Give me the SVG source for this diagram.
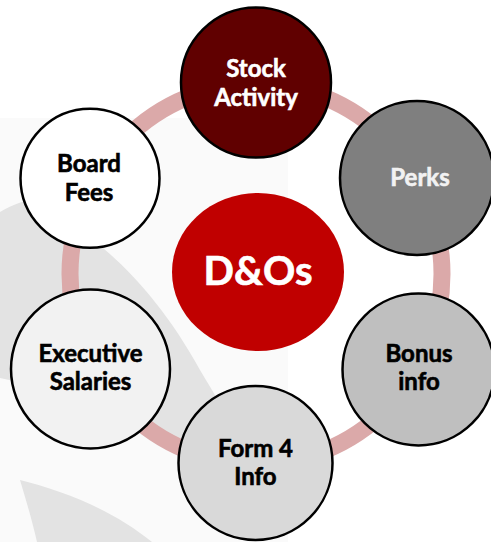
<svg xmlns="http://www.w3.org/2000/svg" width="491" height="542" viewBox="0 0 491 542">
  <style>
    .node { stroke: #000000; stroke-width: 2.5; }
    .lbl { font-family: Lato, "Open Sans", "Liberation Sans", sans-serif; font-weight: 700; font-size: 24px; text-anchor: middle; stroke-width: 0.6; paint-order: stroke; }
    .dark { fill: #000000; stroke: #000000; }
    .light { fill: #ffffff; stroke: #ffffff; }
    .pale { fill: #f2f2f2; stroke: #f2f2f2; }
    .ring { fill: none; stroke: #dba9a9; stroke-width: 17; }
    .swoosh { fill: #e3e3e3; }
  </style>

  <!-- backdrop -->
  <rect x="0" y="0" width="491" height="542" fill="#ffffff"/>
  <rect x="0" y="118" width="288" height="424" fill="#fafafa"/>
  <path class="swoosh" d="M0,212 C20,200 45,193 70,205 C85,213 95,235 103,248 C135,275 170,315 200,370 C215,395 230,420 245,450 C200,445 160,440 120,425 C80,405 40,385 0,378 Z"/>
  <path class="swoosh" d="M20,480 C60,490 110,508 152,542 L37,542 C32,520 26,500 20,480 Z"/>

  <!-- connectors: ring linking the outer nodes -->
  <g id="connectors">
    <ellipse class="ring" cx="256" cy="274" rx="186" ry="190"/>
  </g>

  <g id="node-dos">
    <ellipse cx="258" cy="272" rx="86" ry="79" fill="#c00000"/>
    <text x="258" y="285" class="lbl light" style="font-size:40px">D&amp;Os</text>
  </g>

  <g id="node-stock-activity">
    <circle class="node" cx="256" cy="82.5" r="75" fill="#600000"/>
    <text x="256" y="77" class="lbl light">Stock</text>
    <text x="256" y="106" class="lbl light">Activity</text>
  </g>

  <g id="node-perks">
    <circle class="node" cx="417" cy="178" r="77" fill="#7f7f7f"/>
    <text x="420" y="186" class="lbl pale">Perks</text>
  </g>

  <g id="node-bonus-info">
    <circle class="node" cx="418.5" cy="369.5" r="76" fill="#bfbfbf"/>
    <text x="419" y="362" class="lbl dark">Bonus</text>
    <text x="419" y="390" class="lbl dark">info</text>
  </g>

  <g id="node-form4-info">
    <circle class="node" cx="255.5" cy="463" r="77" fill="#d9d9d9"/>
    <text x="255.5" y="457" class="lbl dark">Form 4</text>
    <text x="255.5" y="485" class="lbl dark">Info</text>
  </g>

  <g id="node-executive-salaries">
    <circle class="node" cx="90.5" cy="369" r="79.5" fill="#f2f2f2"/>
    <text x="90.5" y="362" class="lbl dark">Executive</text>
    <text x="90.5" y="390" class="lbl dark">Salaries</text>
  </g>

  <g id="node-board-fees">
    <circle class="node" cx="90" cy="178.3" r="69.5" fill="#ffffff"/>
    <text x="89" y="172" class="lbl dark">Board</text>
    <text x="89" y="201" class="lbl dark">Fees</text>
  </g>
</svg>
